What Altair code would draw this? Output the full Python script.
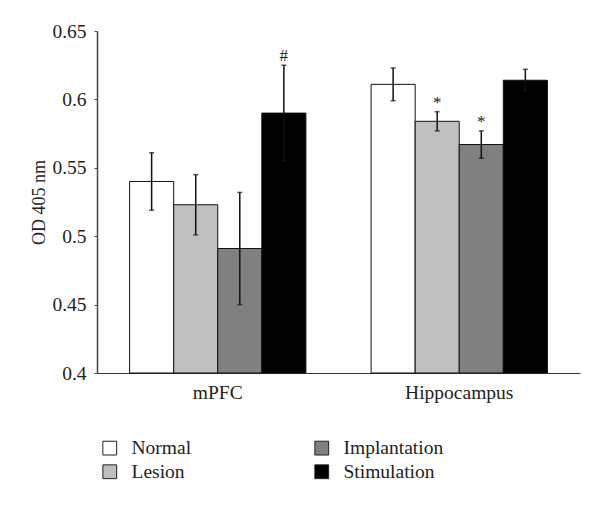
import altair as alt
import pandas as pd

regions = ["mPFC", "Hippocampus"]
groups = ["Normal", "Lesion", "Implantation", "Stimulation"]
group_colors = ["#ffffff", "#bfbfbf", "#808080", "#000000"]
mpfc_means = [0.540, 0.523, 0.491, 0.590]
mpfc_err = [0.021, 0.022, 0.041, 0.035]
hip_means = [0.611, 0.584, 0.567, 0.614]
hip_err = [0.012, 0.007, 0.010, 0.008]
mpfc_marks = ["", "", "", "#"]
hip_marks = ["", "*", "*", ""]

rows = []
for reg, means, errs, marks in [("mPFC", mpfc_means, mpfc_err, mpfc_marks),
                                ("Hippocampus", hip_means, hip_err, hip_marks)]:
    for g, m, e, s in zip(groups, means, errs, marks):
        rows.append({"region": reg, "group": g, "mean": m,
                     "lo": m - e, "hi": m + e, "mark": s})
df = pd.DataFrame(rows)

FONT = "Liberation Serif"
FS = 19.5

x_enc = alt.X("region:N", sort=regions, title=None,
              scale=alt.Scale(paddingInner=0.27, paddingOuter=0.135),
              axis=alt.Axis(labelAngle=0, ticks=False, labelPadding=10,
                            labelFontSize=FS, labelFont=FONT, labelColor="#222",
                            domainColor="#333", domainWidth=1.2))
xo_enc = alt.XOffset("group:N", sort=groups, scale=alt.Scale(paddingInner=0, paddingOuter=0))
y_scale = alt.Scale(domain=[0.4, 0.65], zero=False, nice=False)

base = alt.Chart(df)

bars = base.mark_bar(stroke="#111", strokeWidth=1).encode(
    x=x_enc,
    xOffset=xo_enc,
    y=alt.Y("mean:Q", scale=y_scale, title="OD 405 nm",
            axis=alt.Axis(values=[0.4, 0.45, 0.5, 0.55, 0.6, 0.65], format="~g",
                          grid=False, tickSize=3, tickColor="#444", labelPadding=8,
                          labelFontSize=FS, labelFont=FONT, labelColor="#222",
                          titleFont=FONT, titleFontSize=18, titleFontWeight="normal",
                          titleColor="#222", titlePadding=3,
                          domainColor="#444", domainWidth=1.5)),
    y2=alt.datum(0.4),
    color=alt.Color("group:N",
                    scale=alt.Scale(domain=groups, range=group_colors),
                    legend=alt.Legend(title=None, orient="none", legendX=3, legendY=407,
                                      columns=2, columnPadding=120, rowPadding=3,
                                      symbolType="square", symbolSize=190,
                                      symbolStrokeColor="#222", symbolStrokeWidth=1,
                                      symbolOpacity=1,
                                      labelFont=FONT, labelFontSize=FS, labelColor="#222",
                                      labelOffset=12)),
)

rules = base.mark_rule(color="#111", strokeWidth=1.5).encode(
    x=alt.X("region:N", sort=regions),
    xOffset=xo_enc,
    y=alt.Y("lo:Q", scale=y_scale),
    y2="hi:Q",
)

caps_lo = base.mark_tick(color="#111", thickness=1.5, size=5).encode(
    x=alt.X("region:N", sort=regions),
    xOffset=xo_enc,
    y=alt.Y("lo:Q", scale=y_scale),
)
caps_hi = base.mark_tick(color="#111", thickness=1.5, size=5).encode(
    x=alt.X("region:N", sort=regions),
    xOffset=xo_enc,
    y=alt.Y("hi:Q", scale=y_scale),
)

labels = base.mark_text(font=FONT, fontSize=17, color="#222", dy=-9).encode(
    x=alt.X("region:N", sort=regions),
    xOffset=xo_enc,
    y=alt.Y("hi:Q", scale=y_scale),
    text="mark:N",
)

chart = alt.layer(bars, rules, caps_lo, caps_hi, labels).properties(
    width=483, height=342,
    autosize=alt.AutoSizeParams(type="none"),
    padding={"left": 89, "top": 23, "right": 12, "bottom": 125},
    background="white",
).configure_view(stroke=None)

chart.save("out.html", embed_options={"renderer": "svg", "actions": False})
